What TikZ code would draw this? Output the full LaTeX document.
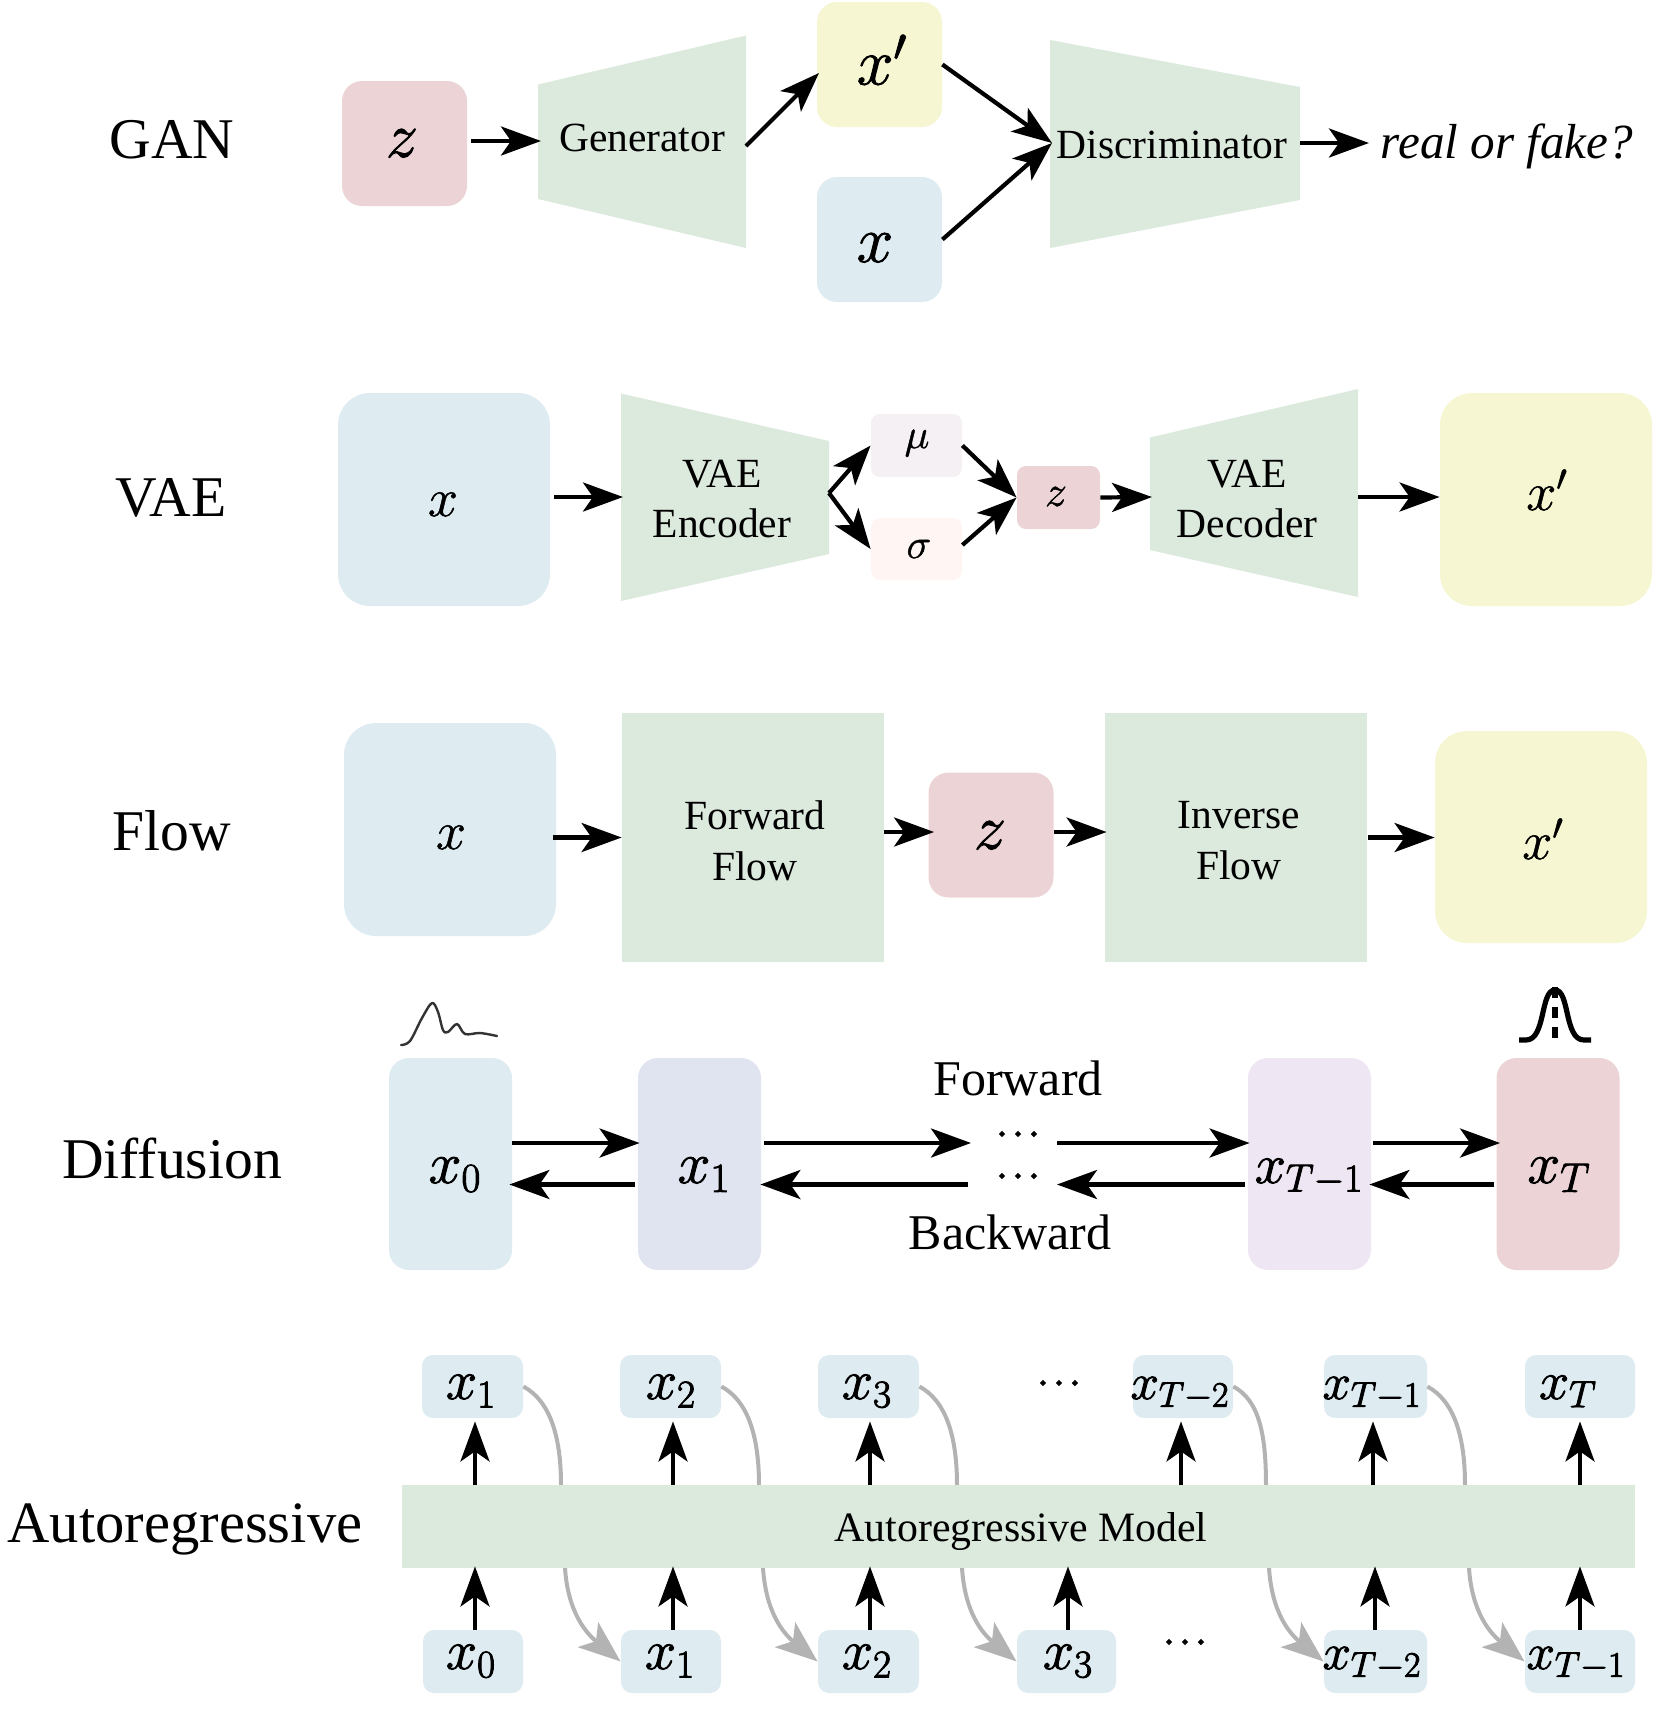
\RequirePackage{fix-cm}
\documentclass[tikz,border=0pt]{standalone}
\usepackage{fontspec}
\setmainfont{Liberation Serif}
\usetikzlibrary{arrows.meta,calc}
\newcommand{\fs}[1]{\fontsize{#1}{#1}\selectfont}
\newcommand{\thk}[2][0.45]{\special{pdf:code q 2 Tr #1 w}#2\special{pdf:code Q}}
\definecolor{cpink}{HTML}{ECD4D6}
\definecolor{cgreen}{HTML}{DCE9DD}
\definecolor{cyellow}{HTML}{F6F6D3}
\definecolor{cblue}{HTML}{DEEBF1}
\definecolor{cmu}{HTML}{F5F0F3}
\definecolor{csigma}{HTML}{FFF6F4}
\definecolor{cindigo}{HTML}{DFE4F0}
\definecolor{cviolet}{HTML}{EFE6F3}
\definecolor{cgrayarrow}{HTML}{B3B3B3}
\tikzset{
  rbox/.style n args={4}{fill=#3,draw=none,inner sep=0pt,minimum width=#1*0.5pt,minimum height=#2*0.5pt,rounded corners=#4*0.5pt},
  title/.style={inner sep=0pt,anchor=base,font=\fs{28.8}},
  lbl/.style={inner sep=0pt,anchor=base,font=\fs{20.75}},
  lbltwo/.style={inner sep=0pt,align=center,font=\fontsize{20.75}{25.4}\selectfont},
  mlbl/.style={inner sep=0pt,anchor=base,font=\fs{#1}},
  arr/.style={line width=2.1pt,-{Stealth[length=20pt,width=14.5pt,inset=5pt]}},
  grayarr/.style={cgrayarrow,line width=2pt,-{Stealth[length=21pt,width=16pt,inset=5pt]}}
}
\begin{document}
\begin{tikzpicture}[x=0.5pt,y=-0.5pt]
\useasboundingbox (0,0) rectangle (1662,1710);

% ---------- GAN ----------
\node[title] (tgan) at (172,158) {GAN};
\node[rbox={125}{125}{cpink}{20}] (gz) at (404.5,143.5) {};
\fill[cgreen] (538,84.5) -- (746,35.5) -- (746,248) -- (538,199) -- cycle;
\node[rbox={125}{125}{cyellow}{20}] (gxp) at (879.5,64.5) {};
\node[rbox={125}{125}{cblue}{20}] (gx) at (879.5,239.5) {};
\fill[cgreen] (1050,40) -- (1300,87) -- (1300,200) -- (1050,248) -- cycle;
\coordinate (genin) at (541,141);
\coordinate (genout) at (746,146);
\coordinate (discin) at (1052,143);
\coordinate (discout) at (1300,143);
\coordinate (gxpin) at (819,73);
\node[mlbl=32] (lgz) at (402,157) {\thk{$z$}};
\node[lbl] (lgen) at (642,151) {Generator};
\node[mlbl=33] (lgxp) at (882,84.5) {\thk{$x'$}};
\node[mlbl=33] (lgx) at (875,262) {\thk{$x$}};
\node[lbl] (ldisc) at (1172,158) {Discriminator};
\node[inner sep=0pt,anchor=base,font=\fs{24.6}\itshape] (lreal) at (1507,158) {real or fake?};
\coordinate (realin) at (1369,143);
\draw[arr] ([xshift=2pt]gz.east |- genin) -- (genin);
\draw[arr] (genout) -- (gxpin);
\draw[arr] (gxp.east) -- (discin);
\draw[arr] (gx.east) -- (discin);
\draw[arr] (discout) -- (realin);

% ---------- VAE ----------
\node[title] (tvae) at (171,516.5) {VAE};
\node[rbox={212}{213}{cblue}{32}] (vx) at (444,499.5) {};
\fill[cgreen] (621,393.5) -- (829,441) -- (829,554) -- (621,601) -- cycle;
\node[rbox={91}{63}{cmu}{9}] (vmu) at (916.5,445.5) {};
\node[rbox={91}{62}{csigma}{9}] (vsig) at (916.5,549) {};
\node[rbox={83}{63}{cpink}{9}] (vz) at (1058.5,497.5) {};
\fill[cgreen] (1150,437.5) -- (1358,389) -- (1358,597) -- (1150,550) -- cycle;
\node[rbox={212}{213}{cyellow}{32}] (vxp) at (1546,499.5) {};
\coordinate (encin) at (623,497);
\coordinate (encout) at (829,493);
\coordinate (decin) at (1152,497);
\coordinate (decout) at (1358,497);
\node[mlbl=27] (lvx) at (443,516) {\thk[0.25]{$x$}};
\node[lbltwo] (lenc) at (722,499) {VAE\\Encoder};
\node[mlbl=21] (lmu) at (917,448) {\thk[0.2]{$\mu$}};
\node[mlbl=21] (lsig) at (919,558) {\thk[0.2]{$\sigma$}};
\node[mlbl=22] (lvz) at (1056,506) {\thk[0.2]{$z$}};
\node[lbltwo] (ldec) at (1247,499) {VAE\\Decoder};
\node[mlbl=27] (lvxp) at (1547,510) {\thk[0.25]{$x'$}};
\draw[arr] ([xshift=2pt]vx.east |- encin) -- (encin);
\draw[arr] (encout) -- (vmu.west);
\draw[arr] (encout) -- (vsig.west);
\draw[arr] (vmu.east) -- (vz.west);
\draw[arr] ([yshift=2pt]vsig.east) -- (vz.west);
\draw[arr] (vz.east) -- (decin);
\draw[arr] (decout) -- (vxp.west |- decout);

% ---------- Flow ----------
\node[title] (tflow) at (172,850) {Flow};
\node[rbox={212}{213}{cblue}{32}] (fx) at (450,829.5) {};
\node[rbox={262}{249}{cgreen}{0}] (ff) at (753,837.5) {};
\node[rbox={125}{125}{cpink}{20}] (fz) at (991,835) {};
\node[rbox={262}{249}{cgreen}{0}] (fi) at (1236,837.5) {};
\node[rbox={212}{212}{cyellow}{32}] (fxp) at (1541,837) {};
\coordinate (fzy) at (0,832);
\node[mlbl=27] (lfx) at (451,849) {\thk[0.25]{$x$}};
\node[lbltwo] (lff) at (755,840.5) {Forward\\Flow};
\node[mlbl=32] (lfz) at (990,849) {\thk{$z$}};
\node[lbltwo] (lfi) at (1239,840.5) {Inverse\\Flow};
\node[mlbl=27] (lfxp) at (1543,859) {\thk[0.25]{$x'$}};
\draw[arr] ([xshift=-1.5pt]fx.east |- ff.west) -- (ff.west);
\draw[arr] (ff.east |- fzy) -- ([xshift=3pt]fz.west |- fzy);
\draw[arr] (fz.east |- fzy) -- ([xshift=1pt]fi.west |- fzy);
\draw[arr] ([xshift=0.5pt]fi.east) -- (fxp.west |- fi.east);

% ---------- Diffusion ----------
\node[title] (tdif) at (172,1178) {Diffusion};
\node[rbox={123}{212}{cblue}{20}] (d0) at (450.5,1164) {};
\node[rbox={123}{212}{cindigo}{20}] (d1) at (699.5,1164) {};
\node[rbox={123}{212}{cviolet}{20}] (d2) at (1309.5,1164) {};
\node[rbox={123}{212}{cpink}{20}] (d3) at (1558,1164) {};
\node[mlbl=29.5] (ld0) at (455,1183) {\thk{$x_0$}};
\node[mlbl=29.5] (ld1) at (704,1183) {\thk{$x_1$}};
\node[mlbl=28] (ld2) at (1309,1183) {\thk{$x_{T-1}$}};
\node[mlbl=29.5] (ld3) at (1559,1183) {\thk{$x_T$}};
\node[lbl,font=\fs{25}] (lfw) at (1018,1095) {Forward};
\node[lbl,font=\fs{25}] (lbw) at (1010,1249) {Backward};
\node[inner sep=0pt,font=\fs{18}] (dotsf) at (1018,1135) {\thk[0.9]{$\cdots$}};
\node[inner sep=0pt,font=\fs{18}] (dotsb) at (1018,1177) {\thk[0.9]{$\cdots$}};
\coordinate (fy) at (0,1143);
\coordinate (by) at (0,1184.5);
\coordinate (fdl) at (971,1143);
\coordinate (fdr) at (1057,1143);
\coordinate (bdl) at (968,1184.5);
\coordinate (bdr) at (1057,1184.5);
\draw[arr] (d0.east |- fy) -- ([xshift=1pt]d1.west |- fy);
\draw[arr] ([xshift=1.5pt]d1.east |- fy) -- (fdl);
\draw[arr] (fdr) -- ([xshift=1pt]d2.west |- fy);
\draw[arr] ([xshift=1pt]d2.east |- fy) -- ([xshift=2pt]d3.west |- fy);
\draw[arr] ([xshift=-1pt]d3.west |- by) -- ([xshift=-1pt]d2.east |- by);
\draw[arr] ([xshift=-1.5pt]d2.west |- by) -- (bdr);
\draw[arr] (bdl) -- ([xshift=-0.5pt]d1.east |- by);
\draw[arr] ([xshift=-1.5pt]d1.west |- by) -- ([xshift=-1.5pt]d0.east |- by);
% density sketches
\draw[black!80,line width=1.2pt,line join=round,line cap=round] plot[smooth,tension=0.55] coordinates {(401,1045) (410,1041) (422,1018) (432,1003) (438,1012) (443,1030) (448,1032) (457,1024) (465,1034) (480,1033) (497,1036)};
\draw[black,line width=2.6pt] (1519,1040) -- (1526,1040) .. controls (1546,1040) and (1540,990) .. (1555,990) .. controls (1570,990) and (1564,1040) .. (1584,1040) -- (1591,1040);
\draw[black,line width=3.2pt,dash pattern=on 5.5pt off 4.5pt] (1555,987) -- (1555,1043);

% ---------- Autoregressive ----------
\node[inner sep=0pt,anchor=base,font=\fs{29.3}] (tar) at (185,1542) {Autoregressive};
\foreach \n/\x/\w/\t/\ox/\s in {at1/472.5/101/x_1/471/28, at2/670.5/101/x_2/671/28, at3/868.5/101/x_3/867/28, atA/1183/100/x_{T-2}/1180/25.5, atB/1375.5/103/x_{T-1}/1372/25.5, atC/1580/110/x_T/1568/27}{
  \node[rbox={\w}{63}{cblue}{11}] (\n) at (\x,1386.5) {};
  \node[mlbl=\s] (l\n) at (\ox,1399) {\thk{$\t$}};
}
\foreach \n/\x/\w/\t/\ox/\s in {ab0/473/100/x_0/471/28, ab1/671/100/x_1/670/28, ab2/868.5/101/x_2/867/28, ab3/1066.5/99/x_3/1068/28, abA/1375.5/103/x_{T-2}/1372/25.5, abB/1580/110/x_{T-1}/1576/25.5}{
  \node[rbox={\w}{63}{cblue}{11}] (\n) at (\x,1661.5) {};
  \node[mlbl=\s] (l\n) at (\ox,1669) {\thk{$\t$}};
}
\node[inner sep=0pt,font=\fs{18}] (dotst) at (1059,1384) {\thk[0.9]{$\cdots$}};
\node[inner sep=0pt,font=\fs{18}] (dotsbt) at (1185,1643) {\thk[0.9]{$\cdots$}};
\foreach \f/\t/\ux/\lx in {at1/ab1/561/565, at2/ab2/759/763, at3/ab3/957/962, atA/abA/1266/1269, atB/abB/1465/1469}{
  \draw[grayarr] (\f.east) .. controls +(26,14) and +(0,-50) .. (\ux,1485) -- (\lx,1568) .. controls +(3,45) and +(-34,-28) .. (\t.west);
}
\node[rbox={1233}{83}{cgreen}{0}] (bar) at (1018.5,1526.5) {};
\node[inner sep=0pt,anchor=base,font=\fs{20.9}] (lbar) at (1021,1541) {Autoregressive Model};
\foreach \n/\o in {at1/1.25, at2/1.25, at3/0.75, atA/-1, atB/-1.25, atC/0}{
  \draw[arr] ([xshift=\o pt]\n.south |- bar.north) -- ([xshift=\o pt,yshift=-1.5pt]\n.south);
}
\foreach \n/\o in {ab0/1, ab1/1, ab2/0.75, ab3/0.75, abA/-0.25, abB/0}{
  \draw[arr] ([xshift=\o pt]\n.north) -- ([xshift=\o pt,yshift=1pt]\n.north |- bar.south);
}
\end{tikzpicture}
\end{document}
